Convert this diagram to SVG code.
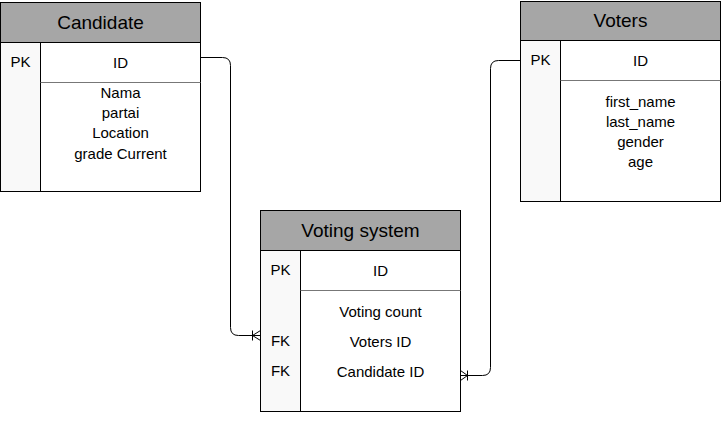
<svg xmlns="http://www.w3.org/2000/svg" width="721" height="421" viewBox="0 0 721 421">
<style>
.hdr{fill:#a6a6a6;stroke:#000;stroke-width:1}
.body{fill:#fff;stroke:#000;stroke-width:1}
.col{fill:#f9f9f9;stroke:#000;stroke-width:1}
.sep{stroke:#777;stroke-width:1;fill:none}
.t{font-family:"Liberation Sans",Arial,sans-serif;fill:#000;text-anchor:middle}
.title{font-size:19px}
.f{font-size:15px}
.conn{fill:none;stroke:#000;stroke-width:1}
</style>
<rect width="721" height="421" fill="#fff"/>
<g id="candidate">
<rect class="body" x="0.5" y="2.5" width="200" height="189"/>
<rect class="hdr" x="0.5" y="2.5" width="200" height="40"/>
<rect class="col" x="0.5" y="42.5" width="40" height="149"/>
<line class="sep" x1="40.5" y1="82.5" x2="200.5" y2="82.5"/>
<text class="t title" x="100.5" y="29">Candidate</text>
<text class="t f" x="20.5" y="67">PK</text>
<text class="t f" x="120.5" y="68">ID</text>
<text class="t f" x="120.5" y="98">Nama</text>
<text class="t f" x="120.5" y="118">partai</text>
<text class="t f" x="120.5" y="138">Location</text>
<text class="t f" x="120.5" y="159">grade Current</text>
</g>
<g id="voters">
<rect class="body" x="520.5" y="1.5" width="200" height="200"/>
<rect class="hdr" x="520.5" y="1.5" width="200" height="39"/>
<rect class="col" x="520.5" y="40.5" width="40" height="161"/>
<line class="sep" x1="560.5" y1="80.5" x2="720.5" y2="80.5"/>
<text class="t title" x="620.5" y="27">Voters</text>
<text class="t f" x="540.5" y="65">PK</text>
<text class="t f" x="640.5" y="66">ID</text>
<text class="t f" x="640.5" y="107">first_name</text>
<text class="t f" x="640.5" y="127">last_name</text>
<text class="t f" x="640.5" y="147">gender</text>
<text class="t f" x="640.5" y="167">age</text>
</g>
<g id="voting-system">
<rect class="body" x="260.5" y="210.5" width="200" height="201"/>
<rect class="hdr" x="260.5" y="210.5" width="200" height="40"/>
<rect class="col" x="260.5" y="250.5" width="40" height="161"/>
<line class="sep" x1="300.5" y1="290.5" x2="460.5" y2="290.5"/>
<text class="t title" x="360.5" y="237">Voting system</text>
<text class="t f" x="280.5" y="275">PK</text>
<text class="t f" x="380.5" y="276">ID</text>
<text class="t f" x="380.5" y="317">Voting count</text>
<text class="t f" x="280.5" y="346">FK</text>
<text class="t f" x="380.5" y="347">Voters ID</text>
<text class="t f" x="280.5" y="376">FK</text>
<text class="t f" x="380.5" y="377">Candidate ID</text>
</g>
<g id="connectors">
<path class="conn" d="M200.5 57.5 H222.5 Q230.5 57.5 230.5 65.5 V327.5 Q230.5 335.5 238.5 335.5 H260.5"/>
<path class="conn" d="M252.5 330.5 V340.5 M252.5 335.5 L260.5 330.5 M252.5 335.5 L260.5 340.5"/>
<path class="conn" d="M520.5 60.5 H498.5 Q490.5 60.5 490.5 68.5 V367.5 Q490.5 375.5 482.5 375.5 H460.5"/>
<path class="conn" d="M467.5 370.5 V380.5 M467.5 375.5 L460.5 370.5 M467.5 375.5 L460.5 380.5"/>
</g>
</svg>
